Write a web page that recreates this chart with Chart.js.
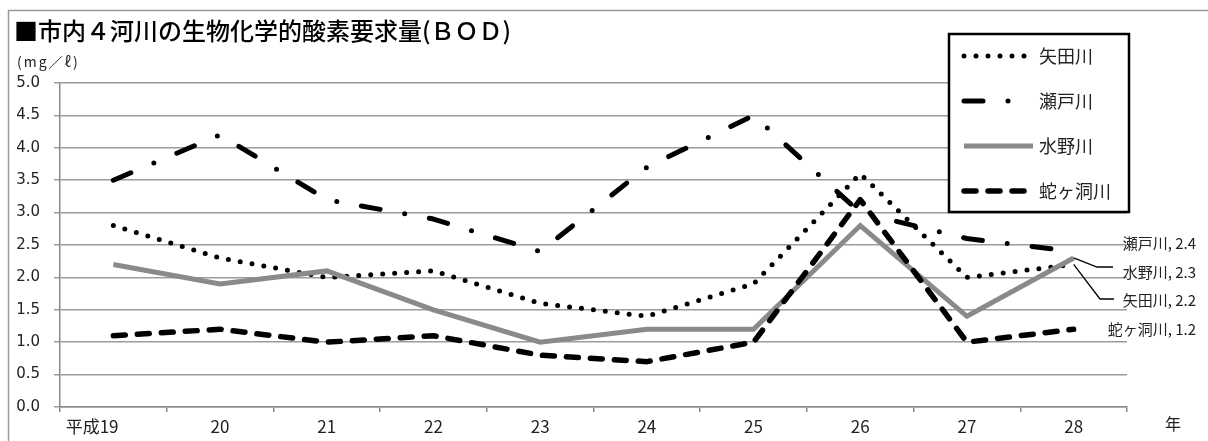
<!DOCTYPE html>
<html lang="ja">
<head>
<meta charset="utf-8">
<title>市内４河川の生物化学的酸素要求量(ＢＯＤ)</title>
<script src="https://cdn.jsdelivr.net/npm/chart.js@4/dist/chart.umd.min.js"></script>
<style>
  html, body { margin: 0; padding: 0; background: #fff; overflow: hidden; }
  canvas { display: block; }
</style>
</head>
<body>
<canvas id="bod" width="1208" height="441"></canvas>
<script>
// 年度（平成）
const years = ['平成19', '20', '21', '22', '23', '24', '25', '26', '27', '28'];
// BOD 年平均値 (mg/ℓ)
const yadaRiver     = [2.8, 2.3, 2.0, 2.1, 1.6, 1.4, 1.9, 3.6, 2.0, 2.2];
const setoRiver     = [3.5, 4.2, 3.2, 2.9, 2.4, 3.7, 4.5, 3.0, 2.6, 2.4];
const mizunoRiver   = [2.2, 1.9, 2.1, 1.5, 1.0, 1.2, 1.2, 2.8, 1.4, 2.3];
const jagaboraRiver = [1.1, 1.2, 1.0, 1.1, 0.8, 0.7, 1.0, 3.2, 1.0, 1.2];
const riverNames = ['矢田川', '瀬戸川', '水野川', '蛇ヶ洞川'];
const yTickValues = [0.0, 0.5, 1.0, 1.5, 2.0, 2.5, 3.0, 3.5, 4.0, 4.5, 5.0];

const titleText = '■市内４河川の生物化学的酸素要求量(ＢＯＤ)';
const unitText = '(mg／ℓ)';
const yearUnitText = '年';

const JP = '"Noto Sans CJK JP", "Noto Sans", sans-serif';
const NUM = '"DejaVu Sans", sans-serif';

const datasets = [
  { label: riverNames[0], data: yadaRiver, borderColor: '#000', borderWidth: 5,
    borderDash: [0, 12], borderCapStyle: 'round', borderJoinStyle: 'round', order: 4 },
  { label: riverNames[1], data: setoRiver, borderColor: '#000', borderWidth: 5,
    borderDash: [19, 25, 0, 25], borderCapStyle: 'round', borderJoinStyle: 'round', order: 3 },
  { label: riverNames[2], data: mizunoRiver, borderColor: '#8a8a8a', borderWidth: 5,
    borderDash: [], borderCapStyle: 'butt', borderJoinStyle: 'miter', order: 2 },
  { label: riverNames[3], data: jagaboraRiver, borderColor: '#000', borderWidth: 5.5,
    borderDash: [12, 12], borderCapStyle: 'round', borderJoinStyle: 'round', order: 1 }
];
datasets.forEach(d => { d.pointRadius = 0; d.pointHoverRadius = 0; d.tension = 0; d.fill = false; });

// 系列末尾の注記（引出線つき）
const endNotes = [
  { series: 1, textY: 243 },
  { series: 2, textY: 272, leader: [[1097, 267], [1113, 267]] },
  { series: 0, textY: 300, leader: [[1100, 299], [1114, 299]] },
  { series: 3, textY: 329 }
];

const decor = {
  id: 'decor',
  beforeDraw(chart) {
    const ctx = chart.ctx;
    ctx.save();
    ctx.fillStyle = '#fff';
    ctx.fillRect(0, 0, chart.width, chart.height);
    ctx.strokeStyle = '#9a9a9a';
    ctx.lineWidth = 1.5;
    ctx.beginPath();
    ctx.moveTo(8.5, chart.height + 5);
    ctx.lineTo(8.5, 10.5);
    ctx.lineTo(chart.width + 5, 10.5);
    ctx.stroke();
    ctx.restore();
  },
  afterDraw(chart) {
    const ctx = chart.ctx;
    ctx.save();
    // タイトル・単位
    ctx.fillStyle = '#000';
    ctx.textBaseline = 'middle';
    ctx.textAlign = 'left';
    ctx.font = '500 24px ' + JP;
    ctx.fillText(titleText, 14, 31);
    ctx.fillStyle = '#222';
    ctx.font = '14px ' + JP;
    ctx.save();
    if ('letterSpacing' in ctx) ctx.letterSpacing = '2px';
    ctx.fillText(unitText, 17, 62);
    ctx.restore();
    ctx.font = '16px ' + JP;
    ctx.textAlign = 'center';
    ctx.fillText(yearUnitText, 1173, 424);

    // 凡例
    ctx.fillStyle = '#fff';
    ctx.fillRect(949, 34, 180, 178);
    ctx.strokeStyle = '#000';
    ctx.lineWidth = 2.5;
    ctx.strokeRect(949, 34, 180, 178);
    const rowY = [56, 101, 146, 191];
    chart.data.datasets.forEach((ds, i) => {
      const y = rowY[i];
      ctx.save();
      ctx.strokeStyle = ds.borderColor;
      ctx.lineWidth = ds.borderWidth;
      ctx.lineCap = ds.borderCapStyle;
      ctx.setLineDash(ds.borderDash);
      ctx.beginPath();
      ctx.moveTo(964, y);
      ctx.lineTo(1033, y);
      ctx.stroke();
      ctx.restore();
      ctx.fillStyle = '#222';
      ctx.font = '18px ' + JP;
      ctx.textAlign = 'left';
      ctx.textBaseline = 'middle';
      ctx.fillText(ds.label, 1039, y);
    });

    // 末尾の値ラベル
    endNotes.forEach(n => {
      const ds = chart.data.datasets[n.series];
      const pt = chart.getDatasetMeta(n.series).data[ds.data.length - 1];
      const value = ds.data[ds.data.length - 1];
      if (n.leader) {
        ctx.save();
        ctx.strokeStyle = '#000';
        ctx.lineWidth = 1.3;
        ctx.beginPath();
        ctx.moveTo(pt.x, pt.y);
        n.leader.forEach(p => ctx.lineTo(p[0], p[1]));
        ctx.stroke();
        ctx.restore();
      }
      ctx.fillStyle = '#222';
      ctx.font = '15px ' + JP;
      ctx.textAlign = 'right';
      ctx.textBaseline = 'middle';
      ctx.fillText(ds.label + ', ' + value.toFixed(1), 1196, n.textY);
    });
    ctx.restore();
  }
};

new Chart(document.getElementById('bod'), {
  type: 'line',
  data: { labels: years, datasets },
  options: {
    responsive: false,
    devicePixelRatio: 1,
    animation: false,
    events: [],
    layout: { padding: { left: 0, top: 83, right: 81, bottom: 0 } },
    plugins: { legend: { display: false }, tooltip: { enabled: false }, title: { display: false } },
    scales: {
      x: {
        type: 'category',
        offset: true,
        afterFit(scale) { scale.height = 34; },
        grid: { offset: true, drawOnChartArea: false, drawTicks: true, tickLength: 5,
                color: '#8a8a8a', lineWidth: 1.5 },
        border: { color: '#8a8a8a', width: 1.5 },
        ticks: {
          autoSkip: false, maxRotation: 0, padding: 4, color: '#222',
          font: { family: JP, size: 17 },
          callback(v, i) { return i === 0 ? years[0] + '\u3000\u3000\u2002' : years[i]; }
        }
      },
      y: {
        min: 0, max: 5,
        afterFit(scale) { scale.width = 60; },
        afterBuildTicks(scale) { scale.ticks = yTickValues.map(v => ({ value: v })); },
        grid: { color: '#9c9c9c', lineWidth: 1.5, tickLength: 6, drawTicks: true },
        border: { color: '#8a8a8a', width: 1.5 },
        ticks: {
          padding: 14, color: '#222',
          font: { family: NUM, size: 15 },
          callback(v) { return Number(v).toFixed(1); }
        }
      }
    }
  },
  plugins: [decor]
});
</script>
</body>
</html>
